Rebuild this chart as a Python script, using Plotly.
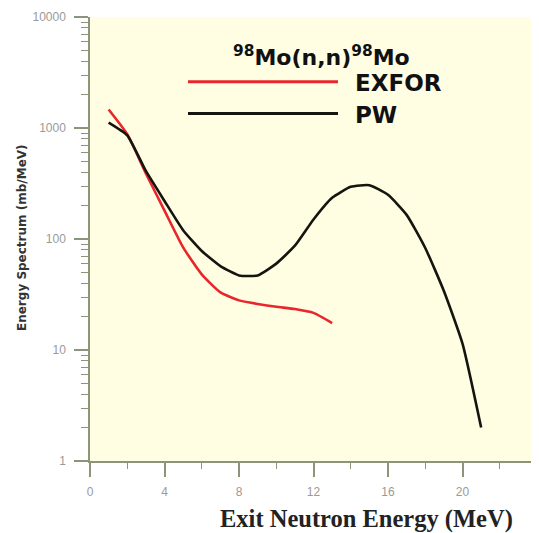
import plotly.graph_objects as go

# Data
pw_x = [1, 2, 3, 4, 5, 6, 7, 8, 9, 10, 11, 12, 13, 14, 15, 16, 17, 18, 19, 20, 21]
pw_y = [1120, 860, 410, 220, 120, 78, 57, 47, 47, 60, 87, 150, 235, 295, 305, 250, 165, 83, 34, 11.4, 2.0]

exfor_x = [1, 2, 3, 4, 5, 6, 7, 8, 9, 10, 11, 12, 13]
exfor_y = [1470, 880, 390, 180, 84, 48, 33, 28, 26, 24.5, 23.4, 21.6, 17.5]

x_ticks = [0, 4, 8, 12, 16, 20, 24]
x_ticktext = ["0", "4", "8", "12", "16", "20", "24"]
y_ticks = [1, 10, 100, 1000, 10000]
y_ticktext = ["1", "10", "100", "1000", "10000"]

OFF = 8  # page body margin in the browser
W, H = 531, 525
L, R, T, B = 82, 2, 7, 72
PW_ = W - L - R
PH_ = H - T - B


def px(x):
    return (x - OFF - L) / PW_


def py(y):
    return (H - B - (y - OFF)) / PH_


axis_col = "#8c957c"
tick_font = dict(family="Liberation Sans, Arial, sans-serif", size=12, color="#9a9a9a")
bold_sans = "DejaVu Sans, Verdana, sans-serif"

fig = go.Figure()
fig.add_trace(go.Scatter(x=exfor_x, y=exfor_y, mode="lines", name="EXFOR",
                         line=dict(color="#e8262c", width=2.6, shape="spline", smoothing=0.5)))
fig.add_trace(go.Scatter(x=pw_x, y=pw_y, mode="lines", name="PW",
                         line=dict(color="#151510", width=2.6, shape="spline", smoothing=0.5)))

fig.update_layout(
    width=W, height=H,
    margin=dict(l=L, r=R, t=T, b=B),
    paper_bgcolor="white",
    plot_bgcolor="#fffee2",
    showlegend=False,
    font=dict(family="Liberation Sans, Arial, sans-serif"),
)

fig.update_xaxes(
    range=[0, 24], tickvals=x_ticks, ticktext=x_ticktext,
    showgrid=False, zeroline=False, showline=True, linecolor=axis_col, linewidth=1.5,
    ticks="outside", ticklen=14, tickcolor=axis_col, tickwidth=1.5,
    tickfont=tick_font, ticklabelstandoff=5,
    minor=dict(ticks="outside", ticklen=6, dtick=2, tick0=0, tickcolor=axis_col, tickwidth=1.2),
)
fig.update_yaxes(
    type="log", range=[0, 4], tickvals=y_ticks, ticktext=y_ticktext,
    showgrid=False, zeroline=False, showline=True, linecolor=axis_col, linewidth=1.5,
    ticks="outside", ticklen=14, tickcolor=axis_col, tickwidth=1.5,
    tickfont=tick_font, ticklabelstandoff=6,
    minor=dict(ticks="outside", ticklen=7, dtick="D1", tickcolor=axis_col, tickwidth=1.2),
)

# Legend drawn as shapes + text
legend_items = [("EXFOR", "#e8262c", 80), ("PW", "#151510", 112)]
for name, col, yy in legend_items:
    fig.add_shape(type="line", xref="paper", yref="paper",
                  x0=px(188), x1=px(338), y0=py(yy), y1=py(yy),
                  line=dict(color=col, width=3))
    fig.add_annotation(xref="paper", yref="paper", x=px(353), y=py(yy + 1),
                       text="<b>%s</b>" % name, showarrow=False, xanchor="left", yanchor="middle",
                       font=dict(family=bold_sans, size=23, color="#111"))

fig.add_annotation(xref="paper", yref="paper", x=px(321), y=py(54),
                   text="<b><sup>98</sup>Mo(n,n)<sup>98</sup>Mo</b>", showarrow=False,
                   xanchor="center", yanchor="middle",
                   font=dict(family=bold_sans, size=22, color="#111"))

# Axis titles
fig.add_annotation(xref="paper", yref="paper", x=px(366), y=py(519),
                   text="<b>Exit Neutron Energy (MeV)</b>", showarrow=False,
                   xanchor="center", yanchor="middle",
                   font=dict(family="Liberation Serif, Times New Roman, serif", size=24.5, color="#222"))
fig.add_annotation(xref="paper", yref="paper", x=px(22), y=py(237),
                   text="<b>Energy Spectrum (mb/MeV)</b>", showarrow=False, textangle=-90,
                   xanchor="center", yanchor="middle",
                   font=dict(family=bold_sans, size=12, color="#333"))

fig.write_html("out.html")
